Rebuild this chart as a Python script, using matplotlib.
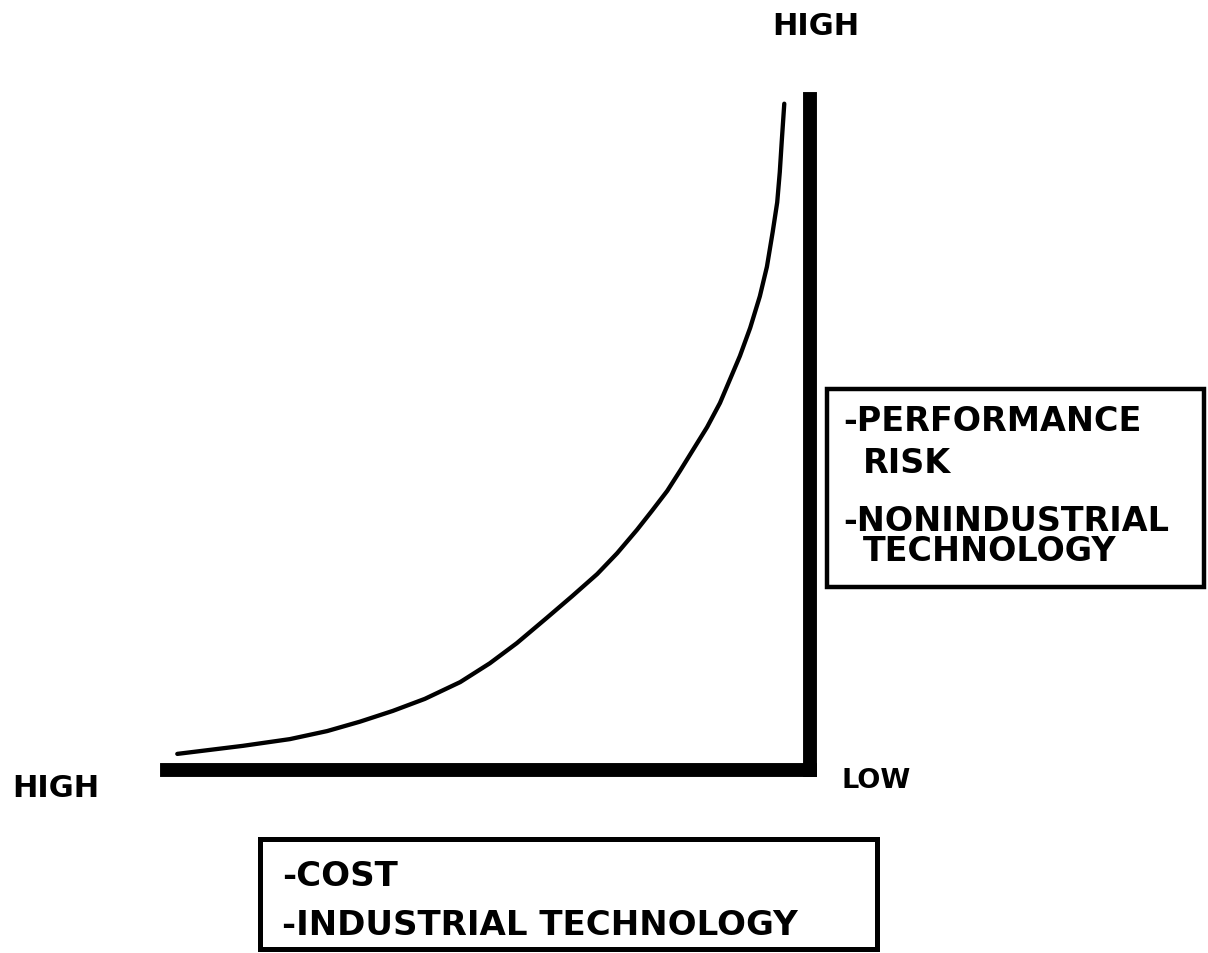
import matplotlib
matplotlib.use("Agg")
import matplotlib.pyplot as plt
from matplotlib.patches import Rectangle

# ---- data (axes run 0..100 in both directions) ----
curve_x = [1.6, 11.8, 19.1, 24.9, 30.0, 35.1, 40.1, 45.6, 50.2, 54.4, 59.1,
           63.0, 66.9, 70.0, 73.1, 75.4, 77.8, 79.8, 81.8, 84.0, 86.0, 89.1,
           90.7, 92.2, 93.3, 94.2, 94.9, 95.3, 95.6, 96.0]
curve_y = [2.4, 3.6, 4.6, 5.8, 7.2, 8.8, 10.6, 13.1, 15.9, 18.9, 22.7,
           25.9, 29.2, 32.3, 35.8, 38.6, 41.6, 44.6, 47.7, 51.1, 54.7, 61.7,
           65.9, 70.6, 75.0, 80.2, 84.6, 89.1, 93.6, 99.3]

y_high_label = "HIGH"
x_high_label = "HIGH"
x_low_label = "LOW"
right_box_lines = ["-PERFORMANCE", "RISK", "-NONINDUSTRIAL", "TECHNOLOGY"]
bottom_box_lines = ["-COST", "-INDUSTRIAL TECHNOLOGY"]

W, H = 1208, 954
fig = plt.figure(figsize=(W / 100, H / 100), dpi=100)
fig.patch.set_facecolor("white")


def fx(px):
    return px / W


def fy(py):
    return 1 - py / H


# main axes: thick bottom and right spines form the L
left, right, top, bottom = 167, 810, 100, 771
ax = fig.add_axes([fx(left), fy(bottom), fx(right) - fx(left), fy(top) - fy(bottom)])
ax.set_xlim(0, 100)
ax.set_ylim(0, 100)
ax.patch.set_alpha(0)
for s in ["left", "top"]:
    ax.spines[s].set_visible(False)
for s in ["bottom", "right"]:
    ax.spines[s].set_linewidth(10)
    ax.spines[s].set_color("black")
    ax.spines[s].set_capstyle("projecting")
ax.set_xticks([])
ax.set_yticks([])

ax.plot(curve_x, curve_y, color="black", lw=3.1, solid_capstyle="round",
        solid_joinstyle="round")

font = dict(family="DejaVu Sans", weight="bold", color="black")

# axis end labels
fig.text(fx(772), fy(35), y_high_label, fontsize=22, va="baseline", ha="left", **font)
fig.text(fx(12), fy(797), x_high_label, fontsize=22, va="baseline", ha="left", **font)
fig.text(fx(842), fy(788), x_low_label, fontsize=19.5, va="baseline", ha="left", **font)

# right box
fig.patches.append(Rectangle((fx(827), fy(588)), fx(1204) - fx(827), fy(390) - fy(588),
                             transform=fig.transFigure, fill=False, lw=3.2,
                             edgecolor="black"))
rb_x = [843, 863, 843, 863]
rb_y = [431, 473, 531, 561]
for t, xx, yy in zip(right_box_lines, rb_x, rb_y):
    fig.text(fx(xx), fy(yy), t, fontsize=24, va="baseline", ha="left", **font)

# bottom box
fig.patches.append(Rectangle((fx(260), fy(950)), fx(877) - fx(260), fy(840) - fy(950),
                             transform=fig.transFigure, fill=False, lw=3.6,
                             edgecolor="black"))
bb_y = [886, 935]
for t, yy in zip(bottom_box_lines, bb_y):
    fig.text(fx(282), fy(yy), t, fontsize=24.5, va="baseline", ha="left", **font)

fig.savefig("out.png", dpi=100, facecolor="white")
